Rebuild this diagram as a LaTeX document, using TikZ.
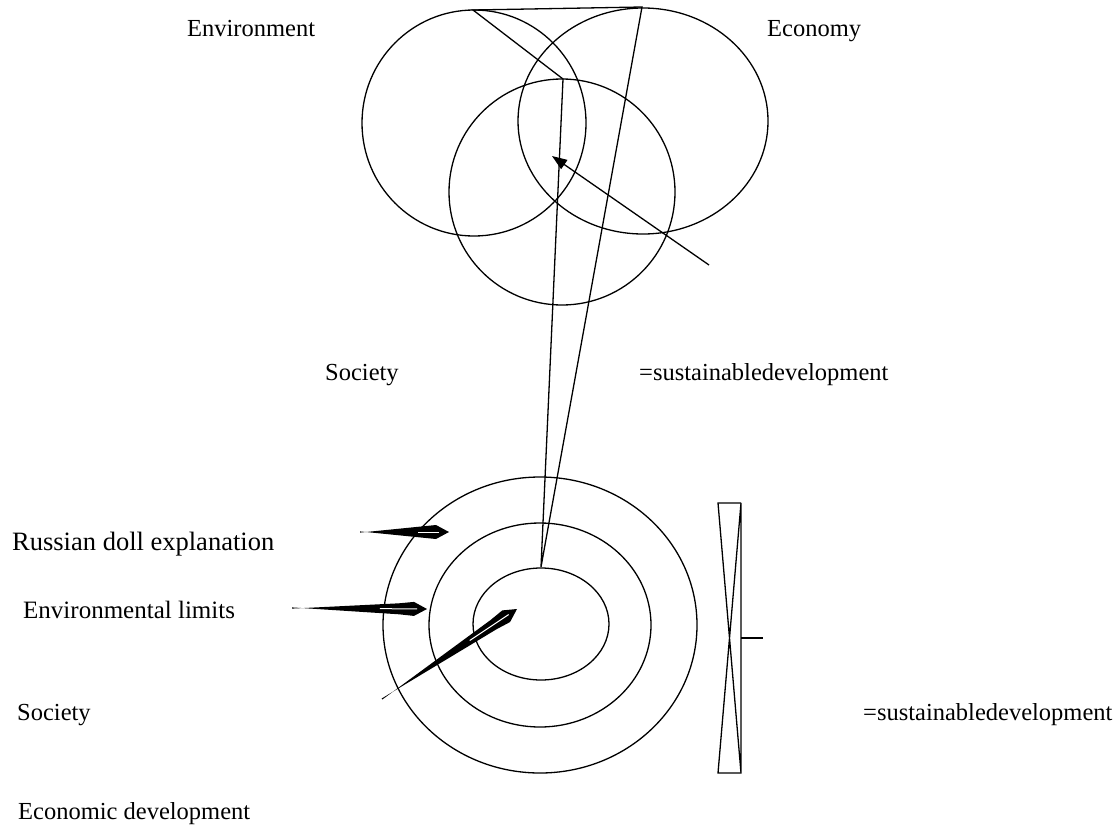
\documentclass[tikz,border=0pt]{standalone}
\usepackage{fontspec}
\setmainfont{Liberation Serif}
\usetikzlibrary{calc,arrows.meta}
\tikzset{
  ring/.style={draw, line width=1.3pt},
  edge/.style={draw, line width=1.3pt, line join=miter},
  lbl/.style={anchor=base west, inner sep=0pt, font=\fontsize{24.5}{28}\selectfont},
}
\newcommand\needlepath[2]{%
  \fill (#2) -- ($(#2)!13pt!(#1)!7pt!90:(#1)$) -- ($(#2)!28pt!(#1)!5.5pt!90:(#1)$)
     -- ($(#1)!0.6pt!90:(#2)$) -- ($(#1)!0.6pt!-90:(#2)$)
     -- ($(#2)!28pt!(#1)!5.5pt!-90:(#1)$) -- ($(#2)!13pt!(#1)!7pt!-90:(#1)$) -- cycle;
  \draw[white, line width=1pt] ($(#2)!10pt!(#1)$) -- ($(#2)!0.35!(#1)$);
}
\begin{document}
\begin{tikzpicture}[x=1pt,y=-1pt]
\useasboundingbox (0,0) rectangle (1115,827);
\fill[white] (0,0) rectangle (1115,827);

% --- Venn circles
\draw[ring] (474,123) ellipse [x radius=112pt, y radius=113pt];
\draw[ring] (643,121) ellipse [x radius=125pt, y radius=113pt];
\draw[ring] (562,192) ellipse [x radius=113pt, y radius=113pt];

\coordinate (envtop) at (473,10);
\coordinate (ecotop) at (642,7);
\coordinate (soctop) at (563,79);
\coordinate (innertop) at (541,567);
\draw[edge] (innertop) -- (soctop) -- (envtop) -- (ecotop) -- cycle;

\coordinate (arrtail) at (709,265);
\coordinate (arrtip) at (552,156);
\draw[edge, -{Triangle[length=15pt,width=11pt]}] (arrtail) -- (arrtip);

% --- Russian doll
\draw[ring] (540,625) ellipse [x radius=157pt, y radius=148pt];
\draw[ring] (540,625) ellipse [x radius=111pt, y radius=102pt];
\draw[ring] (541,624) ellipse [x radius=68pt, y radius=56pt];

% --- needles
\coordinate (n1tail) at (360,532); \coordinate (n1tip) at (449,532);
\coordinate (n2tail) at (292,608); \coordinate (n2tip) at (427,609);
\coordinate (n3tail) at (382,699); \coordinate (n3tip) at (517,609);
\needlepath{n1tail}{n1tip}
\needlepath{n2tail}{n2tip}
\needlepath{n3tail}{n3tip}

% --- hourglass
\coordinate (hgtl) at (718,503); \coordinate (hgtr) at (741,503);
\coordinate (hgbl) at (718,773); \coordinate (hgbr) at (741,773);
\coordinate (hgtick) at (763,638); \coordinate (hgmid) at (741,638);
\draw[edge] (hgtr) -- (hgtl) -- (hgbr) -- (hgbl) -- (hgtr) -- (hgbr);
\draw[edge] (hgmid) -- (hgtick);

% --- labels
\node[lbl] (envlbl) at (187,36) {Environment};
\node[lbl] (ecolbl) at (767,36) {Economy};
\node[lbl] (soclbl) at (325,380) {Society};
\node[lbl] (sdlbl) at (639,380) {=sustainabledevelopment};
\node[lbl, font=\fontsize{26.5}{30}\selectfont] (rdlbl) at (12,550) {Russian doll explanation};
\node[lbl, font=\fontsize{25}{29}\selectfont] (ellbl) at (23,618) {Environmental limits};
\node[lbl] (soc2lbl) at (17,720) {Society};
\node[lbl] (sd2lbl) at (863,720) {=sustainabledevelopment};
\node[lbl] (edlbl) at (18,819) {Economic development};
\end{tikzpicture}
\end{document}
